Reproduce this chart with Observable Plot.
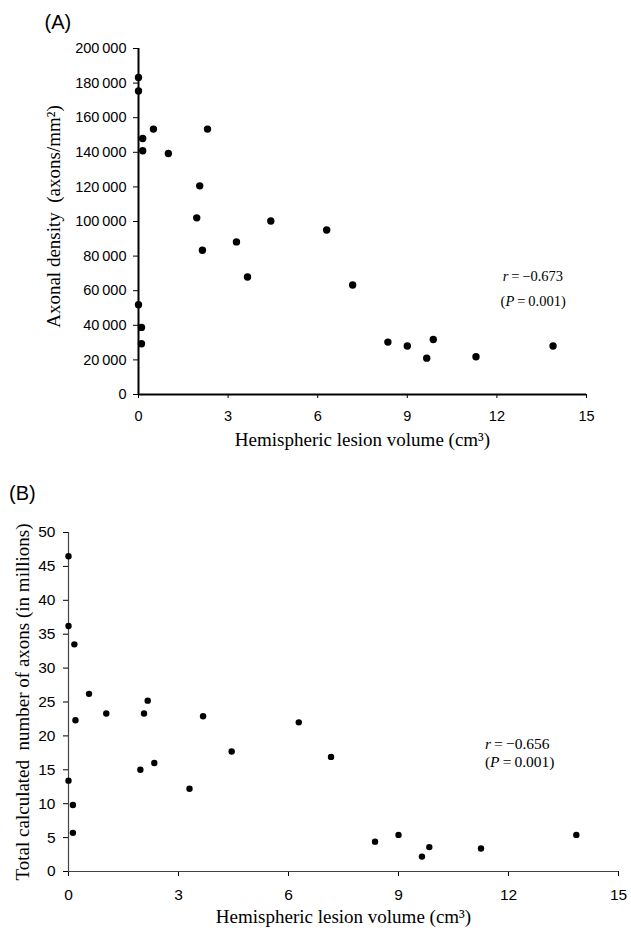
<!DOCTYPE html>
<html><head><meta charset="utf-8">
<script src="https://cdn.jsdelivr.net/npm/d3@7"></script>
<script src="https://cdn.jsdelivr.net/npm/@observablehq/plot@0.6"></script>
<style>
body{margin:0;background:#fff;}
#wrap{position:relative;width:631px;height:930px;background:#fff;}
#wrap svg{position:absolute;left:0;}
#wrap svg text{white-space:pre;}
</style></head><body><div id="wrap"></div>
<script>
// Panel A: axonal density vs lesion volume
const lesionA  = [0, 0, 0.14, 0.14, 0.5, 1.0, 2.05, 2.31, 1.95, 2.14, 3.28, 3.65, 4.43, 6.30, 7.17, 0, 0.1, 0.1, 8.35, 9.0, 9.87, 9.65, 11.3, 13.88];
const densityA = [183300, 175400, 148000, 140900, 153400, 139300, 120600, 153400, 102100, 83400, 88200, 67900, 100300, 95100, 63300, 51900, 38800, 29300, 30300, 28000, 31800, 21000, 21800, 28000];
// Panel B: total axons (millions) vs lesion volume
const lesionB  = [0, 0, 0.16, 0.56, 0.19, 1.03, 2.06, 2.16, 3.67, 6.28, 4.45, 1.96, 2.34, 3.30, 0, 0.12, 0.12, 7.16, 8.36, 9.0, 9.84, 9.64, 11.25, 13.85];
const axonsB   = [46.5, 36.2, 33.5, 26.2, 22.3, 23.3, 23.3, 25.2, 22.9, 22.0, 17.7, 15.0, 16.0, 12.2, 13.4, 9.8, 5.7, 16.9, 4.4, 5.4, 3.6, 2.2, 3.4, 5.4];

const xTicks  = [0, 3, 6, 9, 12, 15];
const yTicksA = [0, 20000, 40000, 60000, 80000, 100000, 120000, 140000, 160000, 180000, 200000];
const yTicksB = [0, 5, 10, 15, 20, 25, 30, 35, 40, 45, 50];

const labelA = "(A)", labelB = "(B)";
const xLabel = "Hemispheric lesion volume (cm\u00B3)";
const yLabelA = "Axonal density  (axons/mm\u00B2)";
const yLabelB = "Total calculated  number of axons (in millions)";
const statA = ["\u2212" + "0.673", "0.001"];
const statB = ["\u2212" + "0.656", "0.001"];

const serif = "'Liberation Serif','Times New Roman',serif";
const sans = "'Liberation Sans',Arial,Helvetica,sans-serif";
const fmtA = d => d3.format(",")(d).replace(/,/g, "\u2009");

const dataA = lesionA.map((x, i) => ({x, y: densityA[i]}));
const dataB = lesionB.map((x, i) => ({x, y: axonsB[i]}));

const plotA = Plot.plot({
  width: 631, height: 465,
  marginLeft: 138, marginRight: 45, marginTop: 48, marginBottom: 71,
  style: {fontFamily: sans, fontSize: "14.5px", color: "black", background: "white", overflow: "visible"},
  x: {domain: [0, 15], ticks: xTicks, tickSize: 4, tickPadding: 12, label: null},
  y: {domain: [0, 200000], ticks: yTicksA, tickSize: 5, tickPadding: 7, tickFormat: fmtA, label: null},
  marks: [
    Plot.ruleY([0], {stroke: "black", strokeWidth: 2}),
    Plot.ruleX([0], {stroke: "black", strokeWidth: 2}),
    Plot.dot(dataA, {x: "x", y: "y", r: 3.7, fill: "black", stroke: "none"}),
    Plot.text([xLabel], {frameAnchor: "bottom", dy: 51, lineAnchor: "bottom", fontFamily: serif, fontSize: 19, fill: "black"}),
    Plot.text([yLabelA], {frameAnchor: "left", rotate: -90, dx: -79, dy: -5, lineAnchor: "bottom", textAnchor: "middle", fontFamily: serif, fontSize: 19, fill: "black"}),
    Plot.text([labelA], {frameAnchor: "top-left", dx: -94, dy: -20, lineAnchor: "bottom", textAnchor: "start", fontFamily: sans, fontSize: 20, fill: "black"})
  ]
});

const plotB = Plot.plot({
  width: 631, height: 465,
  marginLeft: 68, marginRight: 13, marginTop: 67, marginBottom: 59,
  style: {fontFamily: sans, fontSize: "15.5px", color: "black", background: "white", overflow: "visible"},
  x: {domain: [0, 15], ticks: xTicks, tickSize: 5, tickPadding: 12, label: null},
  y: {domain: [0, 50], ticks: yTicksB, tickSize: 5, tickPadding: 8, label: null},
  marks: [
    Plot.ruleY([0], {stroke: "#444", strokeWidth: 1.2}),
    Plot.ruleX([0], {stroke: "#444", strokeWidth: 1.2}),
    Plot.dot(dataB, {x: "x", y: "y", r: 3.2, fill: "black", stroke: "none"}),
    Plot.text([xLabel], {frameAnchor: "bottom", dy: 51, lineAnchor: "bottom", fontFamily: serif, fontSize: 19, fill: "black"}),
    Plot.text([yLabelB], {frameAnchor: "left", rotate: -90, dx: -40, dy: 0, lineAnchor: "bottom", textAnchor: "middle", fontFamily: serif, fontSize: 19, fill: "black"}),
    Plot.text([labelB], {frameAnchor: "top-left", dx: -59.4, dy: -33, lineAnchor: "bottom", textAnchor: "start", fontFamily: sans, fontSize: 20, fill: "black"})
  ]
});

function addStat(plot, vals, anchors, fontSize) {
  const sx = plot.scale("x"), sy = plot.scale("y");
  const svg = d3.select(plot.tagName.toLowerCase() === "svg" ? plot : plot.querySelector("svg"));
  const g = svg.append("g").attr("font-family", serif).attr("font-size", fontSize)
    .attr("fill", "black").attr("text-anchor", "start");
  const t1 = g.append("text").attr("x", sx.apply(anchors[0][0])).attr("y", sy.apply(anchors[0][1]));
  t1.append("tspan").attr("font-style", "italic").text("r");
  t1.append("tspan").text("\u2009=\u2009" + vals[0]);
  const t2 = g.append("text").attr("x", sx.apply(anchors[1][0])).attr("y", sy.apply(anchors[1][1]));
  t2.append("tspan").text("(");
  t2.append("tspan").attr("font-style", "italic").text("P");
  t2.append("tspan").text("\u2009=\u2009" + vals[1] + ")");
}
addStat(plotA, statA, [[12.21, 65400], [12.14, 50900]], 14.5);
addStat(plotB, statB, [[11.37, 18.0], [11.37, 15.3]], 15.5);

const wrap = document.getElementById("wrap");
plotA.style.top = "0px";
plotB.style.top = "465px";
wrap.appendChild(plotA);
wrap.appendChild(plotB);
</script>
</body></html>
